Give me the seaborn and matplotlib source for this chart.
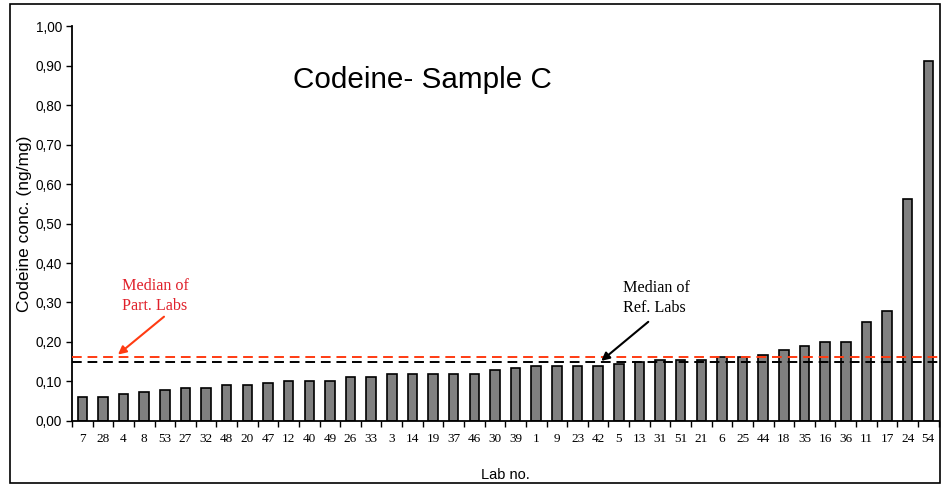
import matplotlib
matplotlib.use("Agg")
import matplotlib.pyplot as plt
import seaborn as sns
import pandas as pd
import numpy as np
from matplotlib.patches import Rectangle

labs = ["7", "28", "4", "8", "53", "27", "32", "48", "20", "47", "12", "40", "49", "26",
        "33", "3", "14", "19", "37", "46", "30", "39", "1", "9", "23", "42", "5", "13",
        "31", "51", "21", "6", "25", "44", "18", "35", "16", "36", "11", "17", "24", "54"]
values = [0.06, 0.06, 0.068, 0.073, 0.078, 0.083, 0.083, 0.092, 0.092, 0.097, 0.10, 0.10,
          0.10, 0.11, 0.11, 0.12, 0.12, 0.12, 0.12, 0.12, 0.129, 0.133, 0.138, 0.138,
          0.138, 0.138, 0.143, 0.148, 0.153, 0.153, 0.153, 0.161, 0.161, 0.167, 0.18,
          0.19, 0.199, 0.199, 0.25, 0.278, 0.562, 0.913]
median_part = 0.163
median_ref = 0.148
yticks = [0.0, 0.1, 0.2, 0.3, 0.4, 0.5, 0.6, 0.7, 0.8, 0.9, 1.0]

df = pd.DataFrame({"Lab": labs, "Conc": values})

sns.set_theme(style="white")
plt.rcParams["font.family"] = ["Liberation Sans", "DejaVu Sans"]
plt.rcParams["text.color"] = "black"
plt.rcParams["axes.labelcolor"] = "black"
plt.rcParams["xtick.color"] = "black"
plt.rcParams["ytick.color"] = "black"

fig = plt.figure(figsize=(9.42, 4.86), dpi=100)
ax = fig.add_axes([0.0764, 0.134, 0.92, 0.812])

sns.barplot(data=df, x="Lab", y="Conc", order=labs, color="#808080", width=0.46,
            edgecolor="black", linewidth=1.2, saturation=1, ax=ax, zorder=2)

n = len(labs)
ax.set_xlim(-0.5, n - 0.5)
ax.set_ylim(0, 1.0)

ax.axhline(median_part, color="#ff3b12", linestyle=(0, (5, 3)), linewidth=1.4, zorder=3)
ax.axhline(median_ref, color="black", linestyle=(0, (5, 3)), linewidth=1.4, zorder=3)

for s in ["top", "right"]:
    ax.spines[s].set_visible(False)
for s in ["left", "bottom"]:
    ax.spines[s].set_color("black")
    ax.spines[s].set_linewidth(1.3)

ax.set_yticks(yticks)
ax.set_yticklabels([f"{v:.2f}".replace(".", ",") for v in yticks], fontsize=9.8)
ax.tick_params(axis="y", direction="out", length=4, width=1, color="black", left=True, pad=3)

ax.set_xticks(range(n))
ax.set_xticklabels(labs, fontsize=9.5, family=["Liberation Serif"])
ax.tick_params(axis="x", which="major", length=0, pad=9)
ax.set_xticks(np.arange(-0.5, n, 1.0), minor=True)
ax.tick_params(axis="x", which="minor", direction="out", length=4, width=1, color="black", bottom=True)

ax.set_xlabel("Lab no.", fontsize=10.5, labelpad=16)
ax.set_ylabel("Codeine conc. (ng/mg)", fontsize=12.5, labelpad=3)

ax.text(0.404, 0.865, "Codeine- Sample C", transform=ax.transAxes, fontsize=21.3,
        ha="center", va="center", color="black")

ax.text(1.92, 0.316, "Median of\nPart. Labs", ha="left", va="center", fontsize=11.6,
        color="#e0202a", family=["Liberation Serif"], linespacing=1.35)
ax.annotate("", xy=(1.73, 0.168), xytext=(3.96, 0.264),
            arrowprops=dict(arrowstyle="-|>", color="#ff3b12", lw=1.5,
                            shrinkA=0, shrinkB=0, mutation_scale=12))
ax.text(26.22, 0.312, "Median of\nRef. Labs", ha="left", va="center", fontsize=11.6,
        color="black", family=["Liberation Serif"], linespacing=1.35)
ax.annotate("", xy=(25.15, 0.152), xytext=(27.43, 0.251),
            arrowprops=dict(arrowstyle="-|>", color="black", lw=1.5,
                            shrinkA=0, shrinkB=0, mutation_scale=12))

border = Rectangle((10 / 942, 3 / 486), 930 / 942, 479 / 486, transform=fig.transFigure,
                   fill=False, edgecolor="black", linewidth=1.2)
fig.patches.append(border)

fig.savefig("out.png", dpi=100)
